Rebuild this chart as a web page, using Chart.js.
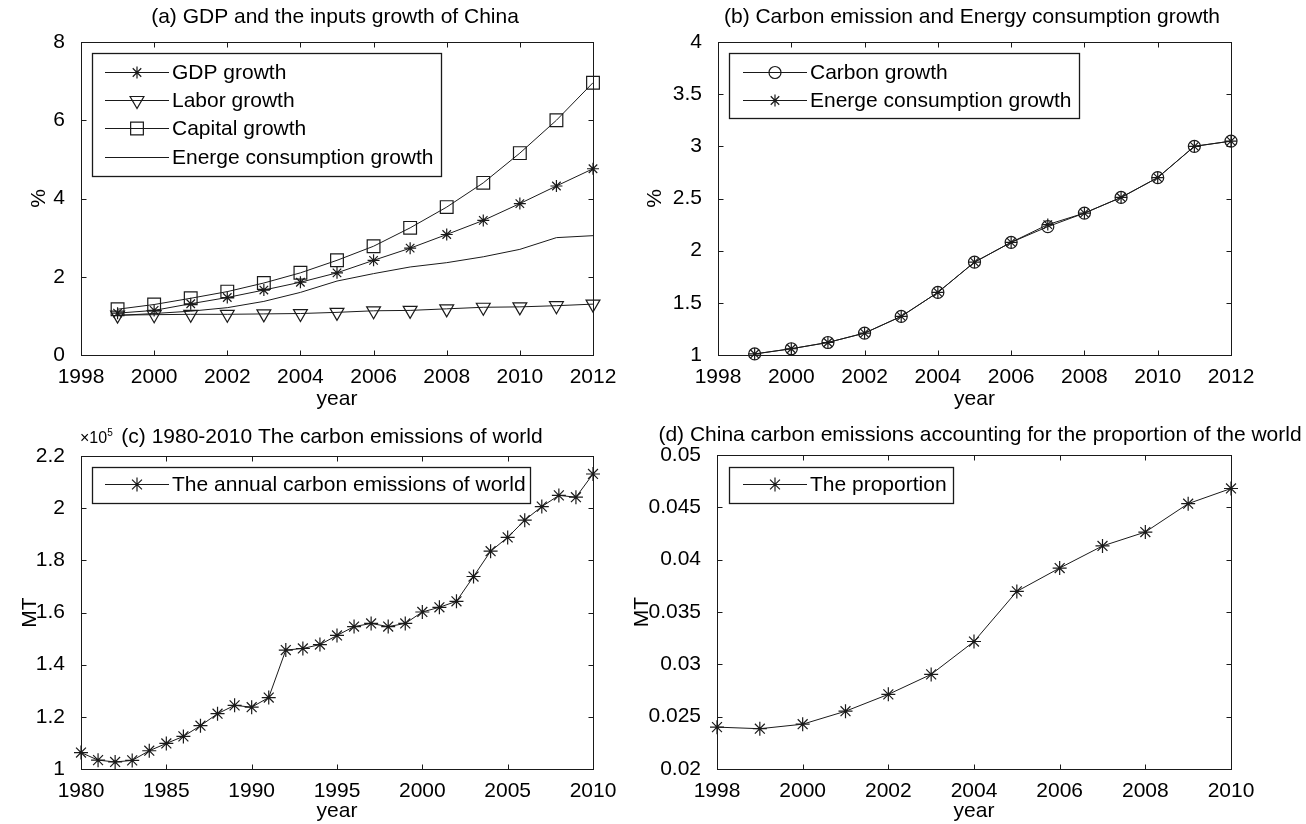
<!DOCTYPE html>
<html>
<head>
<meta charset="utf-8">
<script src="https://cdn.jsdelivr.net/npm/chart.js"></script>
<style>
  body { margin: 0; background: #fff; }
  #wrap { position: relative; width: 1306px; height: 824px; overflow: hidden; background: #fff; }
  canvas { position: absolute; }
</style>
</head>
<body>
<div id="wrap">
  <canvas id="chartA" width="653" height="412" style="left:0;top:0"></canvas>
  <canvas id="chartB" width="676" height="412" style="left:630px;top:0"></canvas>
  <canvas id="chartC" width="620" height="412" style="left:0;top:412px"></canvas>
  <canvas id="chartD" width="686" height="412" style="left:620px;top:412px"></canvas>
</div>
<script>
// (a) + (b) growth index, 1999-2012
const growthYears = [1999, 2000, 2001, 2002, 2003, 2004, 2005, 2006, 2007, 2008, 2009, 2010, 2011, 2012];
const gdpGrowth     = [1.07, 1.14, 1.31, 1.47, 1.66, 1.86, 2.10, 2.42, 2.73, 3.08, 3.44, 3.87, 4.32, 4.76];
const laborGrowth   = [1.02, 1.03, 1.04, 1.04, 1.05, 1.06, 1.09, 1.13, 1.14, 1.18, 1.22, 1.23, 1.26, 1.30];
const capitalGrowth = [1.17, 1.29, 1.45, 1.62, 1.84, 2.10, 2.42, 2.78, 3.25, 3.78, 4.40, 5.16, 6.00, 6.96];
const energyGrowth  = [1.01, 1.06, 1.12, 1.21, 1.37, 1.60, 1.89, 2.08, 2.25, 2.36, 2.51, 2.70, 3.00, 3.05];
const carbonGrowth  = [1.01, 1.06, 1.12, 1.21, 1.37, 1.60, 1.89, 2.08, 2.23, 2.36, 2.51, 2.70, 3.00, 3.05];

// (c) world carbon emissions, MT
const worldYears = [1980, 1981, 1982, 1983, 1984, 1985, 1986, 1987, 1988, 1989, 1990,
  1991, 1992, 1993, 1994, 1995, 1996, 1997, 1998, 1999, 2000,
  2001, 2002, 2003, 2004, 2005, 2006, 2007, 2008, 2009, 2010];
const worldEmissions = [106300, 103400, 102700, 103300, 107000, 109800, 112500, 116600, 121200, 124400, 123700,
  127400, 145600, 146200, 147700, 151200, 154600, 155800, 154600, 155800, 160200,
  162000, 164300, 173800, 183500, 188800, 195400, 200600, 204900, 204200, 213100];

// (d) China share of world emissions
const shareYears = [1998, 1999, 2000, 2001, 2002, 2003, 2004, 2005, 2006, 2007, 2008, 2009, 2010];
const chinaShare = [0.0240, 0.02385, 0.02428, 0.02552, 0.02713, 0.02904, 0.03218, 0.03697, 0.03920, 0.04131, 0.04264, 0.04535, 0.04680];

const FONT = "'Liberation Sans', Arial, Helvetica, sans-serif";
const INK = '#1a1a1a';

Chart.defaults.font.family = FONT;
Chart.defaults.font.size = 21;
Chart.defaults.color = '#000';

function points(xs, ys) {
  return xs.map((x, i) => ({ x: x, y: ys[i] }));
}

function series(label, xs, ys, style, radius, rotation) {
  return {
    label: label,
    data: points(xs, ys),
    borderColor: INK,
    borderWidth: 1,
    pointStyle: style || 'circle',
    pointRadius: radius,
    pointRotation: rotation || 0,
    pointBorderColor: INK,
    pointBackgroundColor: 'rgba(0,0,0,0)',
    pointBorderWidth: 1.2,
    tension: 0,
    clip: false
  };
}

// matlab style frame with inward ticks on all four sides
const boxPlugin = {
  id: 'matlabBox',
  afterDraw(chart) {
    const { ctx, chartArea: a, scales } = chart;
    const l = Math.round(a.left) + 0.5, r = Math.round(a.right) + 0.5;
    const t = Math.round(a.top) + 0.5, b = Math.round(a.bottom) + 0.5;
    ctx.save();
    ctx.strokeStyle = INK;
    ctx.lineWidth = 1;
    ctx.strokeRect(l, t, r - l, b - t);
    ctx.beginPath();
    scales.x.ticks.forEach(tk => {
      const px = Math.round(scales.x.getPixelForValue(tk.value)) + 0.5;
      ctx.moveTo(px, b); ctx.lineTo(px, b - 5);
      ctx.moveTo(px, t); ctx.lineTo(px, t + 5);
    });
    scales.y.ticks.forEach(tk => {
      const py = Math.round(scales.y.getPixelForValue(tk.value)) + 0.5;
      ctx.moveTo(l, py); ctx.lineTo(l + 5, py);
      ctx.moveTo(r, py); ctx.lineTo(r - 5, py);
    });
    ctx.stroke();
    ctx.restore();
  }
};

// legend box drawn inside the axes
const boxLegend = {
  id: 'boxLegend',
  afterDraw(chart, args, opts) {
    if (!opts || !opts.box) return;
    const ctx = chart.ctx;
    const [bx, by, bw, bh] = opts.box;
    ctx.save();
    ctx.fillStyle = '#fff';
    ctx.fillRect(bx, by, bw, bh);
    ctx.strokeStyle = INK;
    ctx.lineWidth = 1.3;
    ctx.strokeRect(bx + 0.5, by + 0.5, bw, bh);
    chart.data.datasets.forEach((ds, i) => {
      const y = opts.rows[i];
      ctx.strokeStyle = INK;
      ctx.lineWidth = 1;
      ctx.beginPath();
      ctx.moveTo(opts.line[0], y + 0.5);
      ctx.lineTo(opts.line[1], y + 0.5);
      ctx.stroke();
      if (ds.pointRadius > 0) {
        ctx.fillStyle = 'rgba(0,0,0,0)';
        ctx.lineWidth = ds.pointBorderWidth;
        Chart.helpers.drawPoint(ctx, {
          pointStyle: ds.pointStyle,
          radius: ds.pointRadius,
          rotation: ds.pointRotation,
          borderWidth: ds.pointBorderWidth
        }, opts.marker, y + 0.5);
      }
      ctx.fillStyle = '#000';
      ctx.font = '21px ' + FONT;
      ctx.textBaseline = 'middle';
      ctx.textAlign = 'left';
      ctx.fillText(ds.label, opts.text, y + 1);
    });
    ctx.restore();
  }
};

// panel title, centred at a fixed point, plus optional x10^5 exponent
const panelTitle = {
  id: 'panelTitle',
  afterDraw(chart, args, opts) {
    if (!opts || !opts.text) return;
    const ctx = chart.ctx;
    ctx.save();
    ctx.fillStyle = '#000';
    ctx.font = '21px ' + FONT;
    ctx.textAlign = 'center';
    ctx.textBaseline = 'middle';
    ctx.fillText(opts.text, opts.x, opts.y);
    if (opts.exponent) {
      const e = opts.exponent;
      ctx.textAlign = 'left';
      ctx.textBaseline = 'alphabetic';
      ctx.font = '16px ' + FONT;
      ctx.fillText('×10', e.x, e.y);
      const w = ctx.measureText('×10').width;
      ctx.font = '10px ' + FONT;
      ctx.fillText('5', e.x + w, e.y - 7);
    }
    ctx.restore();
  }
};

function makeChart(id, cfg) {
  return new Chart(document.getElementById(id), {
    type: 'line',
    data: { datasets: cfg.datasets },
    plugins: [boxPlugin, boxLegend, panelTitle],
    options: {
      responsive: false,
      animation: false,
      events: [],
      layout: { padding: { left: 0, right: cfg.padRight, top: cfg.padTop, bottom: 0 } },
      scales: {
        x: {
          type: 'linear',
          min: cfg.xMin, max: cfg.xMax,
          grid: { display: false },
          border: { display: false },
          ticks: { stepSize: cfg.xStep, autoSkip: false, maxRotation: 0, padding: 2, color: '#000',
            callback: v => String(v) },
          title: { display: true, text: 'year', color: '#000', padding: { top: 0, bottom: 0 } },
          afterFit: s => { s.height = cfg.xHeight; }
        },
        y: {
          min: cfg.yMin, max: cfg.yMax,
          grid: { display: false },
          border: { display: false },
          ticks: { stepSize: cfg.yStep, padding: 8, color: '#000', callback: cfg.yFmt },
          title: { display: true, text: cfg.yTitle, color: '#000', padding: { top: cfg.yTitlePad, bottom: 0 } },
          afterFit: s => { s.width = cfg.yWidth; }
        }
      },
      plugins: {
        legend: { display: false },
        tooltip: { enabled: false },
        title: { display: false },
        boxLegend: cfg.legend,
        panelTitle: cfg.title
      }
    }
  });
}

const plain = v => String(+v.toFixed(4));

makeChart('chartA', {
  title: { text: '(a) GDP and the inputs growth of China', x: 335, y: 17 },
  padTop: 42,
  datasets: [
    series('GDP growth', growthYears, gdpGrowth, 'star', 6),
    series('Labor growth', growthYears, laborGrowth, 'triangle', 8, 180),
    series('Capital growth', growthYears, capitalGrowth, 'rect', 9),
    series('Energe consumption growth', growthYears, energyGrowth, 'circle', 0)
  ],
  xMin: 1998, xMax: 2012, xStep: 2, xHeight: 57,
  yMin: 0, yMax: 8, yStep: 2, yWidth: 81, yTitle: '%', yTitlePad: 27, yFmt: plain,
  padRight: 60,
  legend: { box: [92, 53, 349, 123], rows: [72, 100, 128, 157], line: [105, 169], marker: 137, text: 172 }
});

makeChart('chartB', {
  title: { text: '(b) Carbon emission and Energy consumption growth', x: 342, y: 17 },
  padTop: 42,
  datasets: [
    series('Carbon growth', growthYears, carbonGrowth, 'circle', 6),
    series('Energe consumption growth', growthYears, energyGrowth, 'star', 6)
  ],
  xMin: 1998, xMax: 2012, xStep: 2, xHeight: 57,
  yMin: 1, yMax: 4, yStep: 0.5, yWidth: 88, yTitle: '%', yTitlePad: 13, yFmt: plain,
  padRight: 75,
  legend: { box: [99, 53, 350, 65], rows: [72, 100], line: [113, 177], marker: 145, text: 180 }
});

makeChart('chartC', {
  title: { text: '(c) 1980-2010 The carbon emissions of world', x: 332, y: 25,
    exponent: { x: 80, y: 31 } },
  padTop: 44,
  datasets: [
    series('The annual carbon emissions of world', worldYears, worldEmissions, 'star', 7)
  ],
  xMin: 1980, xMax: 2010, xStep: 5, xHeight: 55,
  yMin: 100000, yMax: 220000, yStep: 20000, yWidth: 81, yTitle: 'MT', yTitlePad: 18,
  yFmt: v => String(+(v / 100000).toFixed(2)),
  padRight: 27,
  legend: { box: [92, 55, 438, 36], rows: [72], line: [105, 169], marker: 137, text: 172 }
});

makeChart('chartD', {
  title: { text: '(d) China carbon emissions accounting for the proportion of the world', x: 360, y: 23 },
  padTop: 43,
  datasets: [
    series('The proportion', shareYears, chinaShare, 'star', 7)
  ],
  xMin: 1998, xMax: 2010, xStep: 2, xHeight: 55,
  yMin: 0.02, yMax: 0.05, yStep: 0.005, yWidth: 97, yTitle: 'MT', yTitlePad: 10, yFmt: plain,
  padRight: 75,
  legend: { box: [109, 55, 224, 36], rows: [72], line: [123, 187], marker: 155, text: 190 }
});
</script>
</body>
</html>
